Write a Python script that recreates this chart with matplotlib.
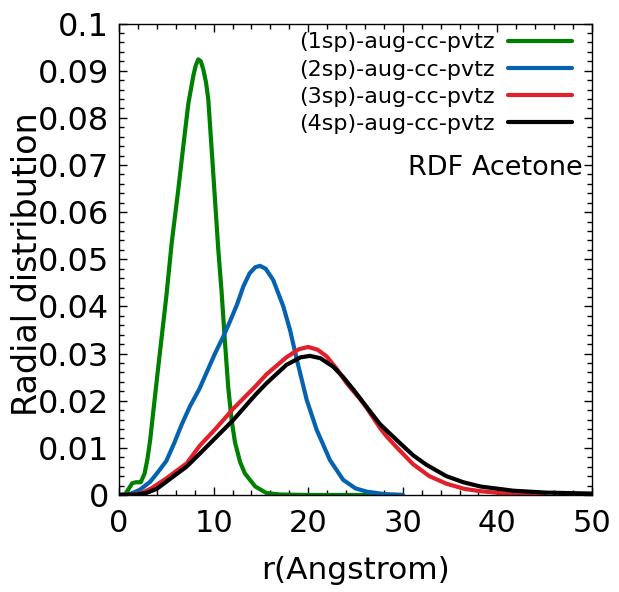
import matplotlib
matplotlib.use('Agg')
import matplotlib.pyplot as plt
from matplotlib.ticker import MultipleLocator, FuncFormatter

# Radial distribution values
r_1sp = [0, 0.6, 1.0, 1.4, 1.8, 2.3, 2.7, 3.0, 3.3, 3.7, 4.2, 5.0, 5.57, 6.27, 6.8, 7.33,
         7.85, 8.1, 8.38, 8.65, 8.92, 9.2, 9.44, 9.8, 10.15, 10.5, 10.85, 11.2, 11.55,
         11.9, 12.26, 12.8, 13.3, 14.4, 15.6, 17.0, 20.0, 30.0]
g_1sp = [0, 0.0, 0.0012, 0.0025, 0.0027, 0.0027, 0.0045, 0.0075, 0.0117, 0.019, 0.028,
         0.042, 0.0534, 0.0648, 0.0740, 0.0830, 0.0888, 0.0910, 0.0924, 0.0920, 0.0902,
         0.0875, 0.0839, 0.0732, 0.0626, 0.052, 0.043, 0.0325, 0.0228, 0.0160, 0.0112,
         0.0070, 0.0046, 0.0018, 0.0004, 0.0001, 0.0, 0.0]

r_2sp = [0, 1.3, 2.2, 3.3, 4.1, 5.0, 5.8, 6.6, 7.5, 8.5, 10.15, 11.0, 11.73, 12.5, 13.14,
         13.8, 14.4, 14.9, 15.5, 16.3, 17.37, 18.08, 18.8, 19.84, 20.9, 22.3, 23.7, 25.0,
         26.2, 28.0, 30.0]
g_2sp = [0, 0.0003, 0.0011, 0.0028, 0.0048, 0.0072, 0.0108, 0.0148, 0.0188, 0.0225,
         0.0300, 0.0335, 0.0368, 0.0405, 0.0442, 0.0470, 0.0483, 0.0486, 0.0480, 0.0456,
         0.0400, 0.0350, 0.0287, 0.0202, 0.0138, 0.0074, 0.0032, 0.0014, 0.0007, 0.0002,
         0.0]

r_3sp = [0, 1.5, 2.4, 3.5, 5.0, 7.15, 8.56, 10.2, 12.08, 14.4, 15.6, 17.7, 19.0, 20.0,
         21.0, 21.95, 23.0, 24.07, 25.5, 26.2, 27.6, 28.3, 29.5, 31.1, 32.8, 34.6, 36.5,
         38.2, 41.0, 45.0]
g_3sp = [0, 0.0001, 0.0004, 0.0015, 0.0035, 0.0067, 0.0105, 0.014, 0.0183, 0.0230,
         0.0256, 0.0292, 0.0309, 0.0314, 0.0308, 0.0294, 0.0268, 0.0237, 0.0203, 0.0184,
         0.0142, 0.0124, 0.0098, 0.0065, 0.0040, 0.0024, 0.0013, 0.0008, 0.0003, 0.0001]

r_4sp = [0, 2.0, 3.0, 4.0, 5.0, 6.0, 7.15, 8.56, 9.8, 12.08, 14.4, 15.6, 17.7, 19.2,
         20.2, 21.3, 22.65, 23.7, 24.8, 26.9, 27.6, 29.7, 31.1, 32.5, 34.6, 36.4, 38.2,
         41.7, 45.2, 50.0]
g_4sp = [0, 0.0001, 0.0005, 0.0013, 0.0028, 0.0043, 0.006, 0.0088, 0.0113, 0.0159,
         0.0212, 0.0237, 0.0276, 0.0292, 0.0295, 0.0290, 0.0272, 0.0250, 0.0223, 0.0168,
         0.0150, 0.0110, 0.0084, 0.0064, 0.0040, 0.0027, 0.0018, 0.0009, 0.0005, 0.0003]

labels = ['(1sp)-aug-cc-pvtz', '(2sp)-aug-cc-pvtz', '(3sp)-aug-cc-pvtz', '(4sp)-aug-cc-pvtz']
colors = ['#008000', '#0562b0', '#e0202a', '#000000']


def main():
    fig = plt.figure(figsize=(6.19, 5.92), dpi=100)
    ax = fig.add_axes([0.1922, 0.1639, 0.7642, 0.7964])

    series = [(r_1sp, g_1sp), (r_2sp, g_2sp), (r_3sp, g_3sp), (r_4sp, g_4sp)]
    for (r, g), lab, col in zip(series, labels, colors):
        ax.plot(r, g, color=col, lw=3, label=lab, solid_capstyle='round',
                solid_joinstyle='round')

    ax.set_xlim(0, 50)
    ax.set_ylim(0, 0.1)
    ax.xaxis.set_major_locator(MultipleLocator(10))
    ax.xaxis.set_minor_locator(MultipleLocator(2))
    ax.yaxis.set_major_locator(MultipleLocator(0.01))
    ax.yaxis.set_minor_locator(MultipleLocator(0.002))
    ax.yaxis.set_major_formatter(FuncFormatter(lambda v, _: f'{round(v, 4):g}'))

    ax.tick_params(which='both', direction='in', top=True, right=True, width=1)
    ax.tick_params(which='major', length=6)
    ax.tick_params(which='minor', length=3.5)
    ax.tick_params(axis='x', labelsize=22, pad=10)
    ax.tick_params(axis='y', labelsize=23, pad=7)
    for sp in ax.spines.values():
        sp.set_linewidth(1)

    ax.set_xlabel('r(Angstrom)', fontsize=22.5, labelpad=13)
    ax.set_ylabel('Radial distribution', fontsize=24)
    ax.yaxis.set_label_coords(-0.158, 0.49)

    ax.legend(loc='upper right', bbox_to_anchor=(0.977, 1.0), frameon=False,
              markerfirst=False, fontsize=16, handlelength=2.9, handletextpad=0.6,
              labelspacing=0.32, borderaxespad=0)
    ax.text(0.981, 0.679, 'RDF Acetone', transform=ax.transAxes, ha='right',
            va='baseline', fontsize=19.5)

    fig.savefig('out.png', dpi=100)
    plt.close(fig)


if __name__ == '__main__':
    main()
